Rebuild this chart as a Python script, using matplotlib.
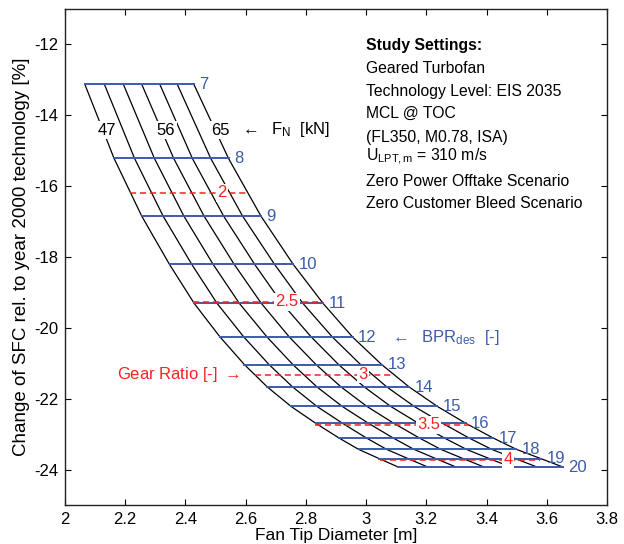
import numpy as np
import matplotlib.pyplot as plt

plt.rcParams['font.family'] = ['Liberation Sans', 'DejaVu Sans']
plt.rcParams['mathtext.fontset'] = 'custom'
plt.rcParams['mathtext.rm'] = 'Liberation Sans'
plt.rcParams['mathtext.it'] = 'Liberation Sans:italic'
plt.rcParams['mathtext.bf'] = 'Liberation Sans:bold'
plt.rcParams['axes.unicode_minus'] = False

BLUE = '#3b5bab'
RED = '#f52222'

# design bypass ratios and the SFC change reached at each of them
bpr = [7, 8, 9, 10, 11, 12, 13, 14, 15, 16, 17, 18, 19, 20]
sfc_bpr = [-13.13, -15.22, -16.85, -18.21, -19.31, -20.26, -21.04,
           -21.67, -22.22, -22.69, -23.11, -23.43, -23.69, -23.93]

# net thrust levels [kN]
thrust = [47, 50, 53, 56, 59, 62, 65]

# fan tip diameter [m]: rows follow bpr, columns follow thrust
fan_dia = [
    [2.066, 2.131, 2.194, 2.255, 2.315, 2.373, 2.428],
    [2.163, 2.231, 2.297, 2.361, 2.423, 2.484, 2.543],
    [2.255, 2.326, 2.395, 2.462, 2.527, 2.590, 2.651],
    [2.347, 2.421, 2.492, 2.562, 2.630, 2.696, 2.758],
    [2.429, 2.505, 2.579, 2.652, 2.721, 2.790, 2.857],
    [2.515, 2.594, 2.671, 2.745, 2.818, 2.888, 2.955],
    [2.596, 2.678, 2.757, 2.834, 2.909, 2.982, 3.052],
    [2.672, 2.756, 2.837, 2.917, 2.994, 3.069, 3.143],
    [2.751, 2.837, 2.921, 3.003, 3.082, 3.160, 3.237],
    [2.832, 2.921, 3.007, 3.091, 3.173, 3.253, 3.330],
    [2.910, 3.001, 3.090, 3.177, 3.260, 3.342, 3.422],
    [2.975, 3.068, 3.159, 3.248, 3.333, 3.417, 3.499],
    [3.043, 3.139, 3.231, 3.322, 3.409, 3.495, 3.580],
    [3.107, 3.205, 3.299, 3.392, 3.481, 3.568, 3.654],
]

# gear ratio iso-lines
gear_ratio = [2, 2.5, 3, 3.5, 4]
sfc_gear = [-16.19, -19.27, -21.32, -22.74, -23.73]
dia_gear_lo = [2.216, 2.424, 2.631, 2.831, 3.047]
dia_gear_hi = [2.611, 2.858, 3.091, 3.340, 3.578]
gear_label_x = [2.522, 2.737, 2.991, 3.207, 3.471]

thrust_labelled = [47, 56, 65]
thrust_label_x = [2.1385, 2.3355, 2.515]
thrust_label_y = -14.42

settings = ['Geared Turbofan',
            'Technology Level: EIS 2035',
            'MCL @ TOC',
            '(FL350, M0.78, ISA)',
            r'U$_{\mathrm{LPT,m}}$ = 310 m/s',
            'Zero Power Offtake Scenario',
            'Zero Customer Bleed Scenario']
settings_y = [-12.69, -13.33, -13.96, -14.62, -15.17, -15.87, -16.50]


def draw_carpet(ax):
    dia = np.array(fan_dia)
    for j in range(len(thrust)):
        ax.plot(dia[:, j], sfc_bpr, color='k', lw=0.9, zorder=2)
    for i, b in enumerate(bpr):
        ax.plot([dia[i, 0], dia[i, -1]], [sfc_bpr[i], sfc_bpr[i]],
                color=BLUE, lw=1.4, zorder=3)
        ax.annotate(str(b), (dia[i, -1], sfc_bpr[i]), xytext=(4, 0),
                    textcoords='offset points', ha='left', va='center',
                    color=BLUE, fontsize=12)
    for g, y, x0, x1, xl in zip(gear_ratio, sfc_gear, dia_gear_lo,
                                dia_gear_hi, gear_label_x):
        ax.plot([x0, x1], [y, y], color=RED, lw=1.1, ls=(0, (4, 2.5)),
                zorder=4)
        ax.text(xl, y, '%g' % g, color=RED, fontsize=12, ha='center',
                va='center', zorder=6,
                bbox=dict(fc='white', ec='none', pad=1.0))
    for t, x in zip(thrust_labelled, thrust_label_x):
        ax.text(x, thrust_label_y, str(t), color='k', fontsize=12,
                ha='center', va='center', zorder=6,
                bbox=dict(fc='white', ec='none', pad=1.0))


def annotate_axes(ax):
    ax.text(2.581, -14.40, r'$\leftarrow$  F$_\mathrm{N}$  [kN]',
            fontsize=12, ha='left', va='center')
    ax.text(3.080, -20.26, r'$\leftarrow$  BPR$_{\mathrm{des}}$  [-]',
            fontsize=12, ha='left', va='center', color=BLUE)
    ax.text(2.579, -21.32, r'Gear Ratio [-] $\rightarrow$', fontsize=12,
            ha='right', va='center', color=RED)
    ax.text(2.999, -12.04, 'Study Settings:', fontsize=11.3,
            fontweight='bold', ha='left', va='center')
    for s, y in zip(settings, settings_y):
        ax.text(2.999, y, s, fontsize=11.3, ha='left', va='center')


fig = plt.figure(figsize=(6.24, 5.44), dpi=100)
ax = fig.add_axes([0.1042, 0.0717, 0.8686, 0.9118])

draw_carpet(ax)
annotate_axes(ax)

ax.set_xlim(2, 3.8)
ax.set_ylim(-25, -11)
ax.set_xticks(np.arange(2, 3.81, 0.2))
ax.set_yticks(np.arange(-24, -11, 2))
ax.xaxis.set_major_formatter(plt.FormatStrFormatter('%g'))
ax.tick_params(direction='in', top=True, right=True, length=4,
               width=0.8, labelsize=12, pad=5)
for sp in ax.spines.values():
    sp.set_linewidth(1.0)
    sp.set_color('#222222')
ax.set_xlabel('Fan Tip Diameter [m]', fontsize=12.5, labelpad=1)
ax.set_ylabel('Change of SFC rel. to year 2000 technology [%]',
              fontsize=13.5, labelpad=3)

fig.savefig('out.png', dpi=100)
